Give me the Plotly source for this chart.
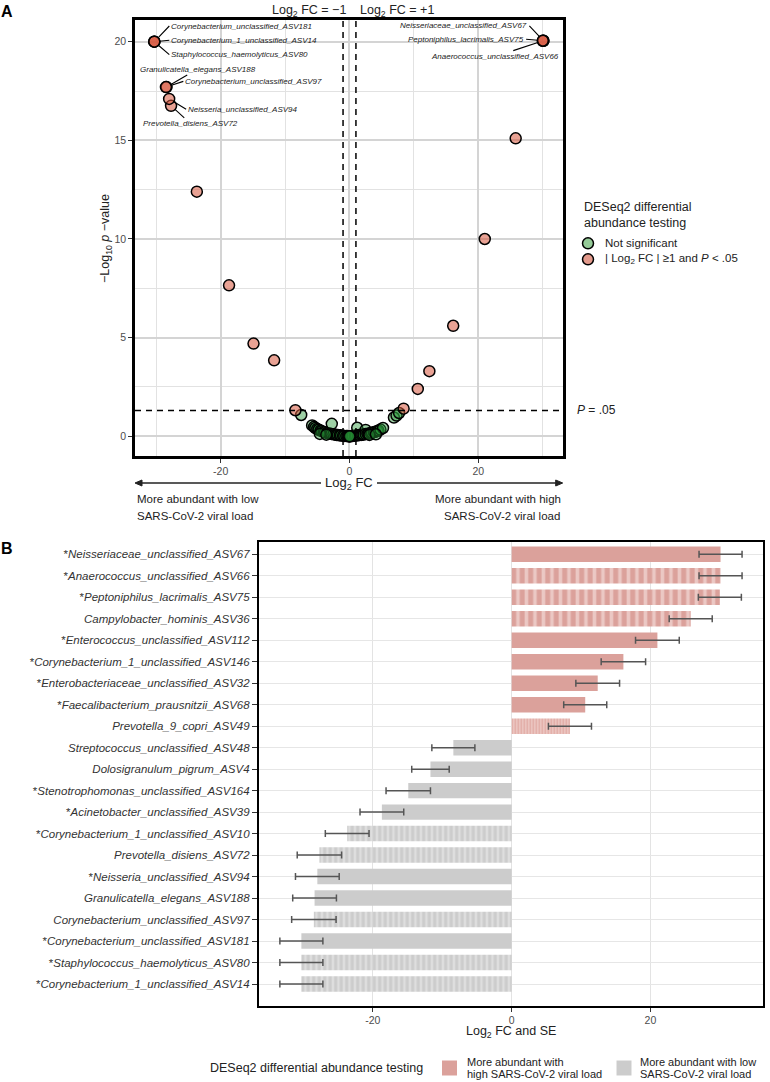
import math
import plotly.graph_objects as go

W, H = 770, 1082
def X(px): return px / W
def Y(py): return 1 - py / H

FONT = "Liberation Sans, Arial, sans-serif"

# ---------------- data ----------------
taxa = [
    "Neisseriaceae_unclassified_ASV67", "Anaerococcus_unclassified_ASV66",
    "Peptoniphilus_lacrimalis_ASV75", "Campylobacter_hominis_ASV36",
    "Enterococcus_unclassified_ASV112", "Corynebacterium_1_unclassified_ASV146",
    "Enterobacteriaceae_unclassified_ASV32", "Faecalibacterium_prausnitzii_ASV68",
    "Prevotella_9_copri_ASV49", "Streptococcus_unclassified_ASV48",
    "Dolosigranulum_pigrum_ASV4", "Stenotrophomonas_unclassified_ASV164",
    "Acinetobacter_unclassified_ASV39", "Corynebacterium_1_unclassified_ASV10",
    "Prevotella_disiens_ASV72", "Neisseria_unclassified_ASV94",
    "Granulicatella_elegans_ASV188", "Corynebacterium_unclassified_ASV97",
    "Corynebacterium_unclassified_ASV181", "Staphylococcus_haemolyticus_ASV80",
    "Corynebacterium_1_unclassified_ASV14",
]
starred = [1, 1, 1, 0, 1, 1, 1, 1, 0, 0, 0, 1, 1, 1, 0, 1, 0, 0, 1, 1, 1]
log2fc = [30.1, 30.1, 30.0, 25.8, 21.0, 16.1, 12.4, 10.6, 8.4, -8.4,
          -11.7, -14.9, -18.7, -23.7, -27.7, -28.0, -28.4, -28.5, -30.3, -30.3, -30.3]
log2fc_se = [3.1, 3.1, 3.1, 3.1, 3.15, 3.2, 3.15, 3.1, 3.1, 3.1,
             2.7, 3.2, 3.15, 3.15, 3.2, 3.15, 3.15, 3.2, 3.1, 3.1, 3.1]
neglog10p = [20.05, 20.05, 20.05, 15.1, 10.0, 5.6, 3.3, 2.4, 1.4, 1.32,
             3.85, 4.7, 7.65, 12.4, 16.75, 17.1, 17.7, 17.7, 20.0, 20.0, 20.0]
bar_style = ["solid", "stripe", "stripe", "stripe", "solid", "solid", "solid", "solid", "fine",
             "solid", "solid", "solid", "solid", "stripe", "stripe", "solid", "solid", "stripe",
             "solid", "stripe", "stripe"]

ns_log2fc = [-7.5, -5.8, -5.5, -5.3, -5.0, -4.8, -4.5, -4.3, -4.0, -3.8,
             -3.5, -3.3, -3.0, -2.75, -2.8, -2.5, -2.2, -2.0, -1.8, -1.5,
             -1.3, -1.0, -0.8, -0.5, -0.3, 0.0, 0.3, 0.5, 0.8, 1.0,
             1.2, 1.3, 1.5, 1.8, 2.0, 2.2, 2.5, 2.5, 2.8, 3.0,
             3.3, 3.5, 3.8, 4.0, 4.3, 4.5, 4.8, 5.2, 6.9, 7.3,
             7.7, -4.6, -3.6, 3.1, 4.1, -0.1, 0.1, 0.0]
ns_neglog10p = [1.08, 0.55, 0.48, 0.42, 0.37, 0.33, 0.29, 0.26, 0.22, 0.20,
                0.17, 0.15, 0.13, 0.63, 0.12, 0.10, 0.08, 0.07, 0.06, 0.05,
                0.04, 0.03, 0.02, 0.01, 0.01, 0.0, 0.01, 0.02, 0.03, 0.04,
                0.43, 0.05, 0.06, 0.07, 0.08, 0.09, 0.32, 0.11, 0.12, 0.14,
                0.16, 0.18, 0.21, 0.23, 0.26, 0.29, 0.34, 0.42, 0.95, 1.05,
                1.18, 0.12, 0.08, 0.07, 0.10, 0.0, 0.0, 0.0]

x_ticks = [-20, 0, 20]
x_ticklabels = ["-20", "0", "20"]
p_threshold = 0.05
fc_threshold = 1

# ---------------- styles ----------------
GREEN_PT = "rgba(40,150,55,0.45)"
SALMON_PT = "rgba(215,85,60,0.55)"
HIGH_COL = "#DBA19B"
LOW_COL = "#CCCCCC"
# (base colour, pattern shape, stripe colour, period px, solidity)
STYLE = {
    ("high", "solid"): (HIGH_COL, "", None, None, None),
    ("high", "stripe"): (HIGH_COL, "|", "#EBC8C4", 8.5, 0.42),
    ("high", "fine"): ("#EECAC6", "|", "#DFA7A1", 3, 0.45),
    ("low", "solid"): (LOW_COL, "", None, None, None),
    ("low", "stripe"): (LOW_COL, "|", "#DEDEDE", 5.5, 0.45),
}

fig = go.Figure()

# ---------------- Panel A: volcano ----------------
fig.add_trace(go.Scatter(
    x=ns_log2fc, y=ns_neglog10p, mode="markers", xaxis="x", yaxis="y",
    marker=dict(size=11, color=GREEN_PT, line=dict(color="black", width=1.5)),
    showlegend=False, hoverinfo="skip"))
fig.add_trace(go.Scatter(
    x=log2fc, y=neglog10p, mode="markers", xaxis="x", yaxis="y",
    marker=dict(size=11, color=SALMON_PT, line=dict(color="black", width=1.5)),
    showlegend=False, hoverinfo="skip"))

# ---------------- Panel B: bars ----------------
for (grp, sty), (base, shape, fg, size, solid) in STYLE.items():
    idx = [i for i, v in enumerate(log2fc)
           if ((v > 0) == (grp == "high")) and bar_style[i] == sty]
    if not idx:
        continue
    marker = dict(color=base, line=dict(width=0))
    if shape:
        marker["pattern"] = dict(shape=shape, fgcolor=fg, fgopacity=1, size=size,
                                 solidity=solid, fillmode="overlay")
    fig.add_trace(go.Bar(
        x=[log2fc[i] for i in idx], y=[taxa[i] for i in idx], orientation="h",
        xaxis="x2", yaxis="y2", width=0.72, marker=marker,
        error_x=dict(type="data", array=[log2fc_se[i] for i in idx], visible=True,
                     color="#555555", thickness=1.5, width=3.5),
        showlegend=False, hoverinfo="skip"))

tick_text = [("*" if s else "") + "<i>" + t + "</i>" for t, s in zip(taxa, starred)]

axis_common = dict(showline=True, mirror=True, linecolor="black", ticks="outside",
                   tickcolor="#333333", zeroline=False)

A_L, A_R, A_T, A_B = 135, 562.7, 20, 456
B_L, B_R, B_T, B_B = 258.7, 763.3, 542.3, 1005.7

fig.update_layout(
    width=W, height=H, margin=dict(l=0, r=0, t=0, b=0),
    paper_bgcolor="white", plot_bgcolor="white",
    font=dict(family=FONT, color="#333333"),
    barmode="overlay",
    xaxis=dict(domain=[X(A_L), X(A_R)], range=[-33.3, 33.1], anchor="y",
               tickmode="array", tickvals=x_ticks, ticktext=x_ticklabels,
               showgrid=True, gridcolor="#d4d4d4", gridwidth=1.8,
               minor=dict(tickmode="array", tickvals=[-30, -10, 10, 30], showgrid=True,
                          gridcolor="#e2e2e2", gridwidth=1, ticks=""),
               linewidth=2.5, ticklen=4, tickwidth=1,
               tickfont=dict(size=10.5, color="#4d4d4d"), **axis_common),
    yaxis=dict(domain=[Y(A_B), Y(A_T)], range=[-1.0, 21.1], anchor="x",
               tickmode="array", tickvals=[0, 5, 10, 15, 20],
               showgrid=True, gridcolor="#d4d4d4", gridwidth=1.8,
               minor=dict(tickmode="array", tickvals=[2.5, 7.5, 12.5, 17.5], showgrid=True,
                          gridcolor="#e2e2e2", gridwidth=1, ticks=""),
               linewidth=2.5, ticklen=4, tickwidth=1,
               tickfont=dict(size=10.5, color="#4d4d4d"), **axis_common),
    xaxis2=dict(domain=[X(B_L), X(B_R)], range=[-36.45, 36.26], anchor="y2",
                tickmode="array", tickvals=x_ticks, ticktext=x_ticklabels,
                showgrid=True, gridcolor="#e3e3e3", gridwidth=1,
                linewidth=1.6, ticklen=4, tickwidth=1,
                tickfont=dict(size=10.5, color="#4d4d4d"), **axis_common),
    yaxis2=dict(domain=[Y(B_B), Y(B_T)], type="category", categoryorder="array",
                categoryarray=taxa, range=[21.01, -0.559], anchor="x2",
                tickmode="array", tickvals=taxa, ticktext=tick_text,
                showgrid=True, gridcolor="#e6e6e6", gridwidth=1,
                linewidth=1.6, ticklen=5, tickwidth=1,
                tickfont=dict(size=11.5, color="#333333"), **axis_common),
)

shapes = []
dash = dict(color="black", width=1.5, dash="6px,5px")
for v in (-fc_threshold, fc_threshold):
    shapes.append(dict(type="line", xref="x", yref="paper", x0=v, x1=v,
                       y0=Y(A_B), y1=Y(A_T), line=dash))
p_line = -math.log10(p_threshold)
shapes.append(dict(type="line", xref="paper", yref="y", x0=X(A_L), x1=X(A_R),
                   y0=p_line, y1=p_line, line=dash))

# double-headed arrow under panel A (with a gap for the axis title)
ARW_Y = 483
for x_from, x_to in ((A_L + 5, 321), (377, A_R - 5)):
    shapes.append(dict(type="line", xref="paper", yref="paper", x0=X(x_from), x1=X(x_to),
                       y0=Y(ARW_Y), y1=Y(ARW_Y), line=dict(color="#222222", width=1.3)))
for tip, base in ((A_L, A_L + 7), (A_R, A_R - 7)):
    shapes.append(dict(type="path", xref="paper", yref="paper",
                       path=f"M {X(tip)},{Y(ARW_Y)} L {X(base)},{Y(ARW_Y - 3)} L {X(base)},{Y(ARW_Y + 3)} Z",
                       fillcolor="#222222", line=dict(color="#222222", width=1)))

# legend symbols panel A
for cy, col in ((243.3, "#95CB98"), (259.3, "#E39A8C")):
    shapes.append(dict(type="circle", xref="paper", yref="paper",
                       x0=X(582.5), x1=X(593.5), y0=Y(cy + 5.5), y1=Y(cy - 5.5),
                       fillcolor=col, line=dict(color="black", width=1.5)))
# legend symbols panel B
LEG_Y = 1068
for x0, col in ((442, HIGH_COL), (616.5, LOW_COL)):
    shapes.append(dict(type="rect", xref="paper", yref="paper",
                       x0=X(x0), x1=X(x0 + 15), y0=Y(LEG_Y + 7.5), y1=Y(LEG_Y - 7.5),
                       fillcolor=col, line=dict(width=0)))

ann = []
def txt(x, y, text, size=12, xanchor="left", yanchor="middle", **kw):
    d = dict(xref="paper", yref="paper", x=X(x), y=Y(y), text=text, showarrow=False,
             xanchor=xanchor, yanchor=yanchor,
             font=dict(size=size, color=kw.pop("color", "#222222"), family=FONT))
    d.update(kw)
    ann.append(d)

txt(6.7, 11, "<b>A</b>", size=16, color="black", xanchor="center")
txt(6.7, 548, "<b>B</b>", size=16, color="black", xanchor="center")
txt(348.3, 11, "Log<sub>2</sub> FC = −1", size=12.5, xanchor="right")
txt(358.3, 11, "Log<sub>2</sub> FC = +1", size=12.5, xanchor="left")
txt(106, (A_T + A_B) / 2, "−Log<sub>10</sub> <i>p</i> −value", size=12.5, xanchor="center",
    textangle=-90)
txt(575, 410.5, "<i>P</i> = .05", size=12)
txt(582, 207, "DESeq2 differential", size=12.5)
txt(582, 223, "abundance testing", size=12.5)
txt(603, 243.3, "Not significant", size=11.5)
txt(603, 259.3, "| Log<sub>2</sub> FC | ≥1 and <i>P</i> &lt; .05", size=11.5)
txt((A_L + A_R) / 2, ARW_Y, "Log<sub>2</sub> FC", size=13, xanchor="center")
txt(A_L, 499, "More abundant with low", size=11.5)
txt(A_L, 515.5, "SARS-CoV-2 viral load", size=11.5)
txt(A_R, 499, "More abundant with high", size=11.5, xanchor="right")
txt(A_R - 0.5, 515.5, "SARS-CoV-2 viral load", size=11.5, xanchor="right")
txt((B_L + B_R) / 2, 1032, "Log<sub>2</sub> FC and SE", size=12.5, xanchor="center")
txt(208, LEG_Y, "DESeq2 differential abundance testing", size=12.5)
txt(464.6, LEG_Y - 6.2, "More abundant with", size=11)
txt(464.6, LEG_Y + 6.2, "high SARS-CoV-2 viral load", size=11)
txt(638, LEG_Y - 6.2, "More abundant with low", size=11)
txt(638, LEG_Y + 6.2, "SARS-CoV-2 viral load", size=11)

# point labels (ggrepel-like)
labels = [
    ("Corynebacterium_unclassified_ASV181", 15, -15.7, "left"),
    ("Corynebacterium_1_unclassified_ASV14", 15, -1.5, "left"),
    ("Staphylococcus_haemolyticus_ASV80", 15, 13, "left"),
    ("Granulicatella_elegans_ASV188", 31, -18, "center"),
    ("Corynebacterium_unclassified_ASV97", 17.4, -5.7, "left"),
    ("Neisseria_unclassified_ASV94", 17, 10.3, "left"),
    ("Prevotella_disiens_ASV72", 19.8, 18, "center"),
    ("Neisseriaceae_unclassified_ASV67", -14, -14.8, "right"),
    ("Peptoniphilus_lacrimalis_ASV75", -16.6, -1.5, "right"),
    ("Anaerococcus_unclassified_ASV66", -48.4, 15.9, "center"),
]
for name, ax, ay, xa in labels:
    i = taxa.index(name)
    ann.append(dict(xref="x", yref="y", x=log2fc[i], y=neglog10p[i], ax=ax, ay=ay,
                    text="<i>" + name + "</i>", showarrow=True, arrowhead=0, arrowwidth=1.1,
                    arrowcolor="black", standoff=5, xanchor=xa, yanchor="middle",
                    font=dict(size=8, color="#222222", family=FONT)))

fig.update_layout(shapes=shapes, annotations=ann)
# remove the browser's default 8px page margin so the figure starts at the window corner
fig.write_html("out.html", config={"displayModeBar": False},
               post_script="document.body.style.margin='0px';")
